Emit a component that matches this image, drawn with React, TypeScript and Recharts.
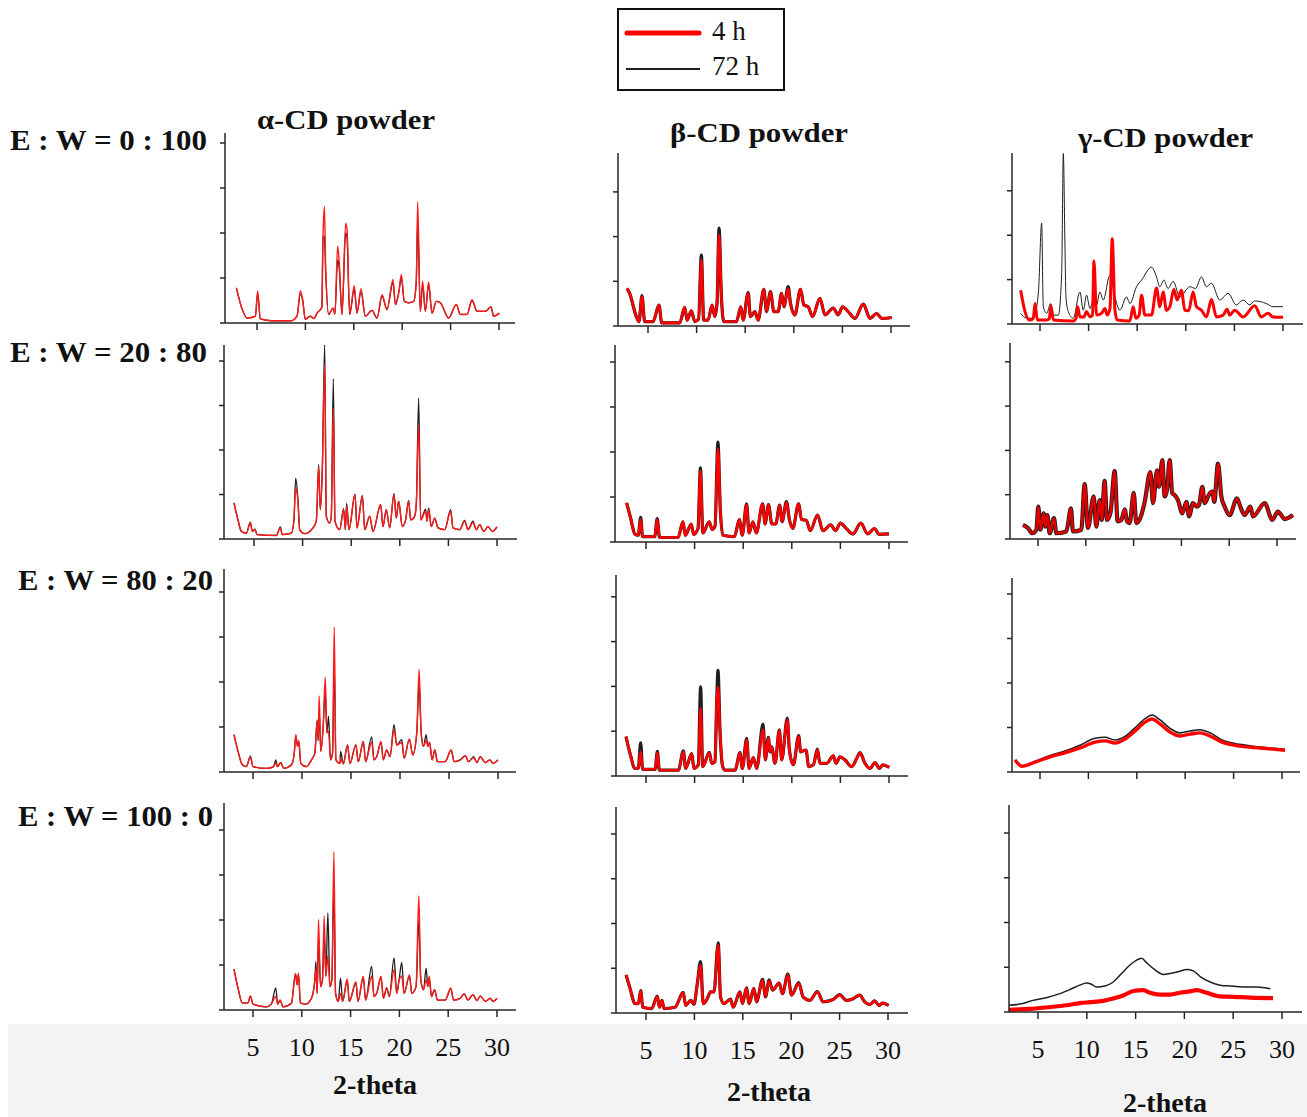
import React from "react";
import { LineChart, Line, XAxis, YAxis } from "recharts";

const xTicks = [5, 10, 15, 20, 25, 30];
const colTitles = ["α-CD powder", "β-CD powder", "γ-CD powder"];
const rowLabels = ["E : W = 0 : 100", "E : W = 20 : 80", "E : W = 80 : 20", "E : W = 100 : 0"];
const seriesNames = ["4 h", "72 h"];
const xTitle = "2-theta";

// rows are [2-theta, 4 h, 72 h]; intensity in y-tick units
const alpha0100 = [[2.87,0.78,0.78],[3.4,0.35,0.35],[3.97,0.11,0.11],[4.83,0.15,0.15],[5.07,0.71,0.66],[5.34,0.09,0.09],[6.5,0.05,0.05],[8.5,0.05,0.05],[9.13,0.15,0.15],[9.48,0.71,0.64],[9.72,0.52,0.5],[9.99,0.08,0.08],[10.5,0.15,0.15],[10.9,0.1,0.1],[11.2,0.22,0.22],[11.7,0.35,0.35],[11.82,1.93,1.9],[11.96,2.59,1.93],[12.1,1.2,1.1],[12.4,0.19,0.19],[12.85,0.33,0.33],[13.05,0.2,0.2],[13.33,1.71,1.41],[13.5,1.34,1.2],[13.78,0.19,0.19],[14.16,2.22,2.0],[14.3,2.08,1.9],[14.57,0.19,0.19],[15.05,0.83,0.75],[15.33,0.22,0.22],[15.74,0.76,0.7],[16.19,0.15,0.15],[16.88,0.28,0.28],[17.4,0.11,0.11],[17.92,0.63,0.6],[18.43,0.3,0.3],[19.05,0.97,0.9],[19.3,0.41,0.41],[19.64,0.67,0.67],[19.91,1.08,1.0],[20.22,0.48,0.48],[20.67,0.45,0.45],[21.18,0.48,0.48],[21.45,0.9,0.9],[21.6,2.69,2.23],[21.87,0.26,0.26],[22.11,0.93,0.85],[22.39,0.26,0.26],[22.73,0.91,0.85],[23.08,0.22,0.22],[23.53,0.48,0.48],[23.94,0.45,0.45],[24.8,0.11,0.11],[25.59,0.41,0.41],[26.0,0.19,0.19],[26.7,0.19,0.19],[27.21,0.52,0.5],[27.73,0.26,0.26],[28.59,0.26,0.26],[29.17,0.36,0.36],[29.45,0.15,0.15],[30.03,0.22,0.22]];

const beta0100 = [[2.84,0.84,0.84],[3.11,0.73,0.73],[3.8,0.21,0.21],[4.07,0.1,0.1],[4.38,0.66,0.68],[4.66,0.1,0.1],[5.52,0.1,0.1],[6.13,0.47,0.47],[6.41,0.07,0.07],[8.26,0.07,0.07],[8.78,0.42,0.42],[9.02,0.13,0.13],[9.46,0.34,0.34],[9.81,0.1,0.1],[10.2,0.15,0.15],[10.49,1.48,1.59],[10.73,0.13,0.13],[11.18,0.13,0.13],[11.59,0.47,0.47],[11.87,0.21,0.21],[12.1,0.5,0.5],[12.31,2.04,2.19],[12.55,0.66,0.66],[12.8,0.1,0.1],[14.1,0.1,0.1],[14.55,0.43,0.43],[14.79,0.13,0.13],[15.3,0.73,0.75],[15.54,0.21,0.21],[15.99,0.32,0.32],[16.33,0.13,0.13],[16.92,0.82,0.82],[17.19,0.32,0.32],[17.6,0.77,0.77],[17.95,0.32,0.32],[18.39,0.32,0.32],[18.74,0.73,0.73],[18.98,0.43,0.43],[19.42,0.84,0.88],[19.66,0.51,0.51],[20.11,0.25,0.25],[20.69,0.82,0.82],[21.04,0.47,0.47],[21.48,0.43,0.43],[21.93,0.21,0.21],[22.69,0.62,0.62],[23.2,0.25,0.25],[24.06,0.4,0.4],[24.57,0.25,0.25],[25.02,0.43,0.43],[25.6,0.32,0.32],[26.29,0.17,0.17],[27.15,0.49,0.49],[27.84,0.17,0.17],[28.52,0.28,0.28],[29.04,0.17,0.17],[30.07,0.19,0.19]];

// [2-theta, intensity]
const gamma0100_4h = [[3.01,0.76],[3.46,0.28],[3.9,0.09],[4.3,0.12],[4.49,0.46],[4.73,0.09],[5.68,0.09],[5.95,0.12],[6.13,0.41],[6.37,0.09],[8.42,0.07],[8.7,0.12],[8.87,0.39],[9.11,0.16],[9.52,0.16],[9.79,0.28],[10.14,0.16],[10.4,0.2],[10.55,1.42],[10.82,0.2],[11.34,0.24],[11.68,0.35],[11.92,0.2],[12.2,0.35],[12.43,1.92],[12.71,0.31],[12.95,0.09],[14.25,0.07],[14.59,0.39],[14.86,0.13],[15.2,0.2],[15.45,0.65],[15.79,0.2],[16.47,0.2],[16.99,0.81],[17.33,0.39],[17.67,0.72],[18.01,0.31],[18.36,0.39],[18.77,0.78],[19.11,0.54],[19.55,0.76],[19.9,0.31],[20.3,0.3],[20.75,0.72],[21.1,0.39],[21.61,0.31],[22.12,0.16],[22.64,0.55],[23.15,0.16],[23.84,0.2],[24.25,0.33],[24.52,0.2],[25.03,0.31],[25.89,0.16],[27.09,0.41],[27.77,0.16],[28.46,0.24],[28.97,0.16],[30.0,0.15]];
const gamma0100_72h = [[3.01,0.24],[3.63,0.13],[4.32,0.13],[4.83,0.69],[5.17,2.27],[5.34,0.39],[5.68,0.24],[6.1,0.46],[6.37,0.2],[6.88,0.2],[7.23,1.13],[7.4,3.84],[7.57,1.73],[7.67,0.61],[7.91,0.28],[8.42,0.13],[9.11,0.72],[9.45,0.31],[9.79,0.65],[10.14,0.35],[10.55,0.61],[10.82,0.43],[11.16,0.72],[11.51,0.54],[12.19,1.1],[12.71,0.61],[13.22,0.31],[13.9,0.61],[14.25,0.46],[14.93,0.84],[15.45,0.99],[16.47,1.28],[16.99,1.06],[17.33,0.84],[17.74,0.99],[18.18,0.8],[18.7,0.96],[19.38,0.61],[20.41,0.84],[21.0,0.8],[21.61,1.06],[22.12,0.84],[22.64,0.92],[23.49,0.54],[24.35,0.69],[25.2,0.43],[25.89,0.54],[26.58,0.43],[27.09,0.52],[28.29,0.46],[28.97,0.39],[30.0,0.39]];

const alpha2080 = [[2.94,0.81,0.81],[3.35,0.43,0.43],[3.7,0.17,0.17],[4.21,0.13,0.13],[4.62,0.36,0.38],[4.83,0.17,0.17],[5.1,0.22,0.22],[5.31,0.1,0.1],[7.3,0.08,0.08],[7.71,0.25,0.27],[7.91,0.1,0.1],[8.84,0.13,0.13],[9.1,0.4,0.4],[9.29,1.15,1.37],[9.53,0.81,0.85],[9.7,0.21,0.21],[10.21,0.12,0.12],[11.07,0.25,0.25],[11.41,0.4,0.4],[11.65,1.6,1.67],[11.82,0.66,0.66],[12.03,1.56,1.6],[12.27,3.92,4.37],[12.44,0.51,0.51],[12.78,0.36,0.36],[12.95,0.5,0.5],[13.16,2.94,3.6],[13.33,0.4,0.4],[13.81,0.21,0.21],[14.22,0.66,0.68],[14.4,0.21,0.21],[14.53,0.73,0.8],[14.77,0.21,0.21],[15.39,1.0,1.0],[15.6,0.25,0.25],[16.15,0.96,0.98],[16.39,0.21,0.21],[16.9,0.51,0.51],[17.24,0.17,0.17],[18.03,0.77,0.77],[18.27,0.28,0.28],[18.61,0.66,0.66],[18.96,0.25,0.25],[19.4,1.0,1.02],[19.64,0.47,0.47],[19.88,0.85,0.85],[20.26,0.28,0.28],[20.6,0.43,0.43],[20.91,0.85,0.87],[21.12,0.43,0.43],[21.53,0.51,0.51],[21.7,0.8,0.8],[21.94,2.57,3.17],[22.15,0.43,0.43],[22.66,0.62,0.67],[22.8,0.4,0.4],[22.97,0.66,0.7],[23.24,0.28,0.28],[23.59,0.47,0.47],[23.93,0.25,0.25],[24.62,0.21,0.21],[25.23,0.62,0.66],[25.47,0.25,0.25],[26.16,0.21,0.21],[26.67,0.4,0.42],[27.02,0.21,0.21],[27.53,0.37,0.4],[27.87,0.21,0.21],[28.22,0.32,0.32],[28.63,0.17,0.17],[29.07,0.28,0.28],[29.52,0.17,0.17],[30.0,0.27,0.27]];

const beta2080 = [[3.0,0.87,0.87],[3.4,0.55,0.55],[3.85,0.18,0.18],[4.2,0.15,0.15],[4.45,0.5,0.55],[4.65,0.12,0.12],[5.9,0.12,0.12],[6.15,0.5,0.52],[6.4,0.1,0.1],[8.3,0.1,0.1],[8.8,0.45,0.45],[9.05,0.15,0.15],[9.65,0.4,0.4],[9.9,0.17,0.17],[10.35,0.3,0.3],[10.6,1.58,1.65],[10.85,0.2,0.2],[11.5,0.45,0.45],[11.8,0.28,0.28],[12.1,0.35,0.35],[12.4,2.07,2.22],[12.65,0.7,0.7],[12.9,0.15,0.15],[14.1,0.12,0.12],[14.6,0.5,0.5],[14.9,0.15,0.15],[15.35,0.82,0.85],[15.6,0.2,0.2],[16.0,0.45,0.45],[16.35,0.2,0.2],[17.0,0.85,0.85],[17.25,0.4,0.4],[17.6,0.83,0.83],[17.95,0.4,0.4],[18.35,0.4,0.4],[18.75,0.82,0.82],[19.0,0.45,0.45],[19.45,0.88,0.9],[19.75,0.5,0.5],[20.1,0.3,0.3],[20.7,0.85,0.85],[21.0,0.5,0.5],[21.5,0.48,0.48],[21.9,0.25,0.25],[22.65,0.6,0.6],[23.2,0.25,0.25],[24.0,0.38,0.38],[24.5,0.25,0.25],[25.0,0.42,0.42],[25.6,0.3,0.3],[26.3,0.18,0.18],[27.1,0.42,0.42],[27.8,0.18,0.18],[28.5,0.3,0.3],[29.0,0.17,0.17],[30.0,0.18,0.18]];

const gamma2080 = [[3.43,0.32,0.32],[3.95,0.25,0.25],[4.41,0.13,0.13],[4.83,0.21,0.21],[5.03,0.73,0.73],[5.24,0.21,0.21],[5.59,0.58,0.58],[5.77,0.28,0.28],[5.98,0.54,0.54],[6.22,0.13,0.13],[6.67,0.47,0.47],[6.92,0.13,0.13],[7.96,0.17,0.17],[8.45,0.69,0.69],[8.66,0.17,0.17],[9.53,0.21,0.21],[9.88,1.24,1.24],[10.23,0.25,0.25],[10.82,0.96,0.96],[11.1,0.28,0.28],[11.45,0.88,0.88],[11.66,0.43,0.43],[11.97,1.31,1.31],[12.22,0.43,0.43],[12.57,0.58,0.58],[13.02,1.53,1.53],[13.33,0.4,0.4],[13.72,0.43,0.43],[14.07,0.67,0.67],[14.31,0.4,0.4],[14.59,0.36,0.36],[15.01,1.04,1.04],[15.29,0.36,0.36],[15.81,0.54,0.54],[16.16,0.84,0.84],[16.75,1.51,1.51],[17.03,0.81,0.81],[17.45,1.55,1.55],[17.66,1.18,1.18],[18.0,1.78,1.78],[18.25,0.96,0.96],[18.49,1.1,1.1],[18.77,1.78,1.78],[19.05,1.03,1.03],[19.3,0.99,0.99],[19.64,0.88,0.88],[20.1,0.58,0.58],[20.52,0.84,0.84],[20.8,0.51,0.51],[21.21,0.81,0.81],[21.63,0.73,0.73],[21.84,0.77,0.77],[22.19,1.18,1.18],[22.43,0.81,0.81],[22.96,1.03,1.03],[23.24,1.07,1.07],[23.44,0.84,0.84],[23.83,1.7,1.7],[24.18,0.96,0.96],[24.53,0.73,0.73],[25.05,0.54,0.54],[25.82,0.92,0.92],[26.16,0.73,0.73],[26.62,0.54,0.54],[27.21,0.73,0.73],[27.49,0.51,0.51],[28.71,0.81,0.81],[29.51,0.43,0.43],[30.1,0.62,0.62],[30.8,0.45,0.45],[31.67,0.54,0.54]];

const alpha8020 = [[3.06,0.83,0.83],[3.47,0.46,0.46],[3.91,0.16,0.16],[4.32,0.12,0.12],[4.73,0.33,0.35],[5.0,0.12,0.12],[6.36,0.08,0.08],[7.11,0.12,0.12],[7.32,0.2,0.27],[7.49,0.12,0.12],[7.83,0.21,0.21],[8.14,0.08,0.08],[8.92,0.16,0.16],[9.2,0.4,0.4],[9.37,0.83,0.8],[9.54,0.57,0.57],[9.67,0.7,0.68],[9.88,0.19,0.19],[10.46,0.12,0.12],[10.97,0.27,0.27],[11.31,0.42,0.42],[11.55,1.13,1.16],[11.65,0.7,0.7],[11.75,1.69,1.4],[11.92,0.46,0.46],[12.16,1.01,1.01],[12.37,2.1,1.8],[12.54,0.87,0.87],[12.71,0.9,1.24],[12.91,0.27,0.27],[13.12,0.42,0.42],[13.29,3.22,2.43],[13.46,0.27,0.27],[13.87,0.19,0.19],[13.94,0.3,0.46],[14.21,0.18,0.18],[14.65,0.6,0.6],[14.89,0.19,0.19],[15.5,0.6,0.6],[15.74,0.23,0.23],[16.26,0.68,0.68],[16.49,0.23,0.23],[17.11,0.66,0.78],[17.35,0.27,0.27],[17.62,0.34,0.34],[18.06,0.68,0.66],[18.3,0.27,0.27],[18.64,0.49,0.49],[18.98,0.34,0.34],[19.39,0.95,1.05],[19.67,0.6,0.6],[20.18,0.65,0.72],[20.42,0.31,0.31],[20.96,0.73,0.73],[21.3,0.38,0.38],[21.71,0.87,0.87],[21.95,2.28,1.95],[22.16,0.87,0.87],[22.39,0.57,0.57],[22.67,0.7,0.83],[22.84,0.57,0.57],[23.01,0.66,0.66],[23.28,0.27,0.27],[23.55,0.49,0.49],[23.82,0.23,0.23],[24.61,0.23,0.23],[25.22,0.49,0.49],[25.53,0.23,0.23],[26.15,0.27,0.27],[26.66,0.36,0.36],[27.0,0.23,0.23],[27.51,0.32,0.34],[27.85,0.21,0.21],[28.19,0.34,0.34],[28.7,0.21,0.21],[29.15,0.27,0.27],[29.49,0.19,0.19],[30.0,0.27,0.27]];

const beta8020 = [[2.94,0.88,0.88],[3.35,0.51,0.51],[3.87,0.17,0.17],[4.21,0.17,0.17],[4.45,0.54,0.74],[4.66,0.15,0.15],[5.93,0.15,0.15],[6.17,0.52,0.55],[6.37,0.13,0.13],[8.33,0.13,0.13],[8.84,0.54,0.56],[9.08,0.17,0.17],[9.7,0.49,0.5],[9.94,0.17,0.17],[10.38,0.25,0.25],[10.62,1.51,1.99],[10.83,0.21,0.21],[11.52,0.51,0.53],[11.76,0.28,0.28],[12.1,0.32,0.32],[12.27,1.62,1.62],[12.41,1.99,2.36],[12.61,1.03,1.03],[12.89,0.21,0.21],[13.13,0.13,0.13],[14.16,0.13,0.13],[14.67,0.52,0.52],[14.91,0.17,0.17],[15.36,0.8,0.84],[15.6,0.17,0.17],[16.04,0.41,0.41],[16.39,0.17,0.17],[17.04,1.03,1.16],[17.28,0.36,0.36],[17.59,0.84,0.86],[17.76,0.54,0.54],[17.93,0.65,0.65],[18.27,0.28,0.28],[18.72,1.01,1.03],[18.96,0.36,0.36],[19.54,1.25,1.29],[19.75,0.58,0.58],[20.16,0.25,0.25],[20.71,0.88,0.9],[20.91,0.54,0.54],[21.46,0.58,0.58],[21.74,0.21,0.21],[22.22,0.25,0.25],[22.63,0.58,0.6],[22.9,0.28,0.28],[23.59,0.28,0.28],[24.27,0.45,0.45],[24.55,0.28,0.28],[24.96,0.43,0.43],[25.47,0.36,0.36],[26.16,0.21,0.21],[26.67,0.39,0.39],[27.02,0.52,0.52],[27.53,0.28,0.28],[28.05,0.17,0.17],[28.56,0.3,0.3],[29.01,0.17,0.17],[29.35,0.25,0.25],[30.03,0.19,0.19]];

const gamma8020_4h = [[2.42,0.27],[3.14,0.13],[4.48,0.22],[6.03,0.34],[7.58,0.43],[9.13,0.54],[10.68,0.67],[11.71,0.7],[12.75,0.65],[13.78,0.74],[14.81,0.92],[15.85,1.12],[16.57,1.19],[17.4,1.08],[18.43,0.9],[19.46,0.81],[20.5,0.85],[21.53,0.88],[22.56,0.81],[23.8,0.67],[25.66,0.58],[27.73,0.54],[30.31,0.49]];
const gamma8020_72h = [[2.42,0.27],[3.14,0.14],[4.48,0.24],[6.03,0.37],[7.58,0.47],[9.13,0.6],[10.68,0.76],[11.71,0.78],[12.75,0.72],[13.78,0.8],[14.81,0.99],[15.85,1.2],[16.57,1.28],[17.4,1.17],[18.43,0.98],[19.46,0.88],[20.5,0.92],[21.53,0.95],[22.56,0.88],[23.8,0.72],[25.66,0.62],[27.73,0.56],[30.31,0.51]];

const alpha1000 = [[3.05,0.91,0.91],[3.46,0.49,0.49],[3.9,0.16,0.16],[4.49,0.16,0.16],[4.73,0.31,0.31],[5.0,0.13,0.13],[6.37,0.07,0.07],[6.88,0.13,0.13],[7.33,0.3,0.49],[7.53,0.13,0.13],[7.77,0.22,0.22],[8.08,0.07,0.07],[8.94,0.15,0.15],[9.35,0.81,0.8],[9.52,0.56,0.56],[9.66,0.82,0.8],[9.86,0.16,0.16],[10.41,0.13,0.13],[10.99,0.26,0.26],[11.34,0.67,0.67],[11.44,0.9,1.08],[11.58,0.37,0.37],[11.71,2.01,1.6],[11.92,0.52,0.52],[12.12,0.67,0.67],[12.29,2.09,1.7],[12.47,0.75,0.75],[12.67,1.2,2.16],[12.88,0.52,0.52],[13.08,0.67,0.67],[13.29,3.51,2.8],[13.46,0.37,0.37],[13.73,0.19,0.19],[13.97,0.37,0.71],[14.18,0.19,0.19],[14.66,0.69,0.66],[14.86,0.19,0.19],[15.55,0.63,0.6],[15.75,0.19,0.19],[16.3,0.75,0.72],[16.54,0.22,0.22],[17.16,0.75,0.97],[17.4,0.3,0.3],[17.67,0.37,0.37],[18.12,0.75,0.72],[18.36,0.26,0.26],[18.7,0.49,0.49],[18.97,0.3,0.3],[19.45,0.9,1.16],[19.73,0.37,0.37],[19.97,0.67,0.67],[20.24,0.75,1.06],[20.48,0.37,0.37],[21.03,0.78,0.76],[21.27,0.37,0.37],[21.71,0.52,0.52],[21.99,2.54,2.0],[22.19,0.67,0.67],[22.47,0.45,0.45],[22.74,0.67,0.93],[22.91,0.52,0.52],[23.05,0.75,0.72],[23.29,0.3,0.3],[23.6,0.45,0.45],[23.9,0.22,0.22],[24.69,0.22,0.22],[25.27,0.49,0.47],[25.55,0.22,0.22],[26.23,0.26,0.26],[26.64,0.36,0.36],[27.02,0.22,0.22],[27.53,0.34,0.34],[27.95,0.21,0.21],[28.29,0.31,0.31],[28.8,0.19,0.19],[29.32,0.26,0.26],[29.59,0.19,0.19],[30.0,0.26,0.26]];

const beta1000 = [[2.94,0.85,0.85],[3.35,0.55,0.55],[3.87,0.21,0.21],[4.21,0.21,0.21],[4.45,0.49,0.5],[4.66,0.13,0.13],[5.58,0.1,0.1],[6.17,0.36,0.38],[6.38,0.13,0.13],[6.65,0.28,0.28],[6.86,0.1,0.1],[7.99,0.13,0.13],[8.85,0.45,0.46],[9.09,0.17,0.17],[9.64,0.28,0.28],[9.95,0.19,0.19],[10.3,0.66,0.66],[10.64,1.07,1.15],[10.91,0.21,0.21],[11.33,0.32,0.32],[11.67,0.47,0.47],[12.02,0.47,0.47],[12.46,1.52,1.57],[12.7,0.36,0.36],[13.05,0.21,0.21],[13.73,0.3,0.31],[14.01,0.13,0.13],[14.7,0.47,0.47],[14.97,0.21,0.21],[15.38,0.55,0.56],[15.66,0.21,0.21],[16.14,0.55,0.55],[16.42,0.25,0.25],[17.04,0.73,0.75],[17.35,0.36,0.36],[17.72,0.72,0.74],[18.07,0.51,0.51],[18.76,0.67,0.67],[19.1,0.43,0.43],[19.65,0.85,0.87],[20.03,0.4,0.4],[20.78,0.66,0.68],[21.23,0.36,0.36],[21.92,0.28,0.28],[22.71,0.47,0.48],[23.29,0.25,0.25],[24.33,0.3,0.3],[25.01,0.4,0.41],[25.7,0.28,0.28],[26.39,0.32,0.32],[27.08,0.4,0.4],[27.59,0.25,0.25],[28.11,0.19,0.19],[28.62,0.27,0.27],[29.07,0.17,0.17],[29.42,0.22,0.22],[30.07,0.17,0.17]];

const gamma1000_4h = [[2.02,0.05],[4.14,0.07],[6.2,0.11],[7.91,0.15],[9.28,0.2],[10.31,0.22],[11.68,0.25],[12.71,0.3],[13.73,0.37],[14.76,0.47],[15.79,0.49],[16.47,0.43],[17.5,0.39],[18.53,0.39],[19.55,0.43],[20.58,0.46],[21.27,0.49],[22.29,0.43],[23.66,0.35],[25.03,0.34],[26.75,0.32],[29.08,0.31]];
const gamma1000_72h = [[2.02,0.15],[3.46,0.19],[4.49,0.26],[5.86,0.32],[7.23,0.41],[8.25,0.5],[9.28,0.6],[9.97,0.65],[10.48,0.62],[10.99,0.56],[11.85,0.58],[12.71,0.67],[13.56,0.86],[14.42,1.05],[15.1,1.16],[15.62,1.2],[16.13,1.1],[16.99,0.94],[17.84,0.84],[18.53,0.86],[19.38,0.9],[20.24,0.95],[20.92,0.92],[21.61,0.79],[22.64,0.67],[23.66,0.6],[24.69,0.58],[26.06,0.56],[27.43,0.56],[28.8,0.52]];

type Pt = { x: number; y: number };
const pick = (rows: number[][], i: number): Pt[] => rows.map((r) => ({ x: r[0], y: r[i] }));

// panel frames in page px: [axis x, axis top, axis right, axis bottom, x of 5, x of 30, px per y tick]
const boxes = [
  [225, 133, 515, 323, 257, 499, 45],
  [618, 153, 910, 326, 648, 891, 44.7],
  [1012, 153, 1303, 324, 1040, 1283, 44.4],
  [224, 345, 517, 539, 254, 497, 44.5],
  [615, 345, 908, 542, 646, 889, 45],
  [1010, 343, 1296, 539, 1038, 1277, 44.3],
  [224, 569, 516, 772, 253, 498, 45],
  [616, 575, 908, 776, 646, 889, 44.8],
  [1012, 578, 1300, 772, 1040, 1282, 44.5],
  [224, 803, 516, 1010, 253, 497, 45],
  [616, 807, 908, 1013, 646, 888, 44.75],
  [1009, 805, 1302, 1012, 1038, 1282, 44.75],
];

// [4 h width, 72 h width, 4 h colour]
const lineLooks = [
  [1.4, 1.3, "#ff1a1a"], [2.6, 3.2, "#ff0000"], [3, 1, "#ff0000"],
  [1.4, 1.3, "#ff1a1a"], [2.6, 3.2, "#ff0000"], [2.6, 4.2, "#e00000"],
  [1.4, 1.3, "#ff1a1a"], [2.6, 3.2, "#ff0000"], [3.4, 1.6, "#ff0000"],
  [1.4, 1.3, "#ff1a1a"], [2.6, 3.2, "#ff0000"], [4.2, 1.5, "#ff0000"],
];

const panelSeries: Pt[][][] = [
  [pick(alpha0100, 1), pick(alpha0100, 2)],
  [pick(beta0100, 1), pick(beta0100, 2)],
  [pick(gamma0100_4h, 1), pick(gamma0100_72h, 1)],
  [pick(alpha2080, 1), pick(alpha2080, 2)],
  [pick(beta2080, 1), pick(beta2080, 2)],
  [pick(gamma2080, 1), pick(gamma2080, 2)],
  [pick(alpha8020, 1), pick(alpha8020, 2)],
  [pick(beta8020, 1), pick(beta8020, 2)],
  [pick(gamma8020_4h, 1), pick(gamma8020_72h, 1)],
  [pick(alpha1000, 1), pick(alpha1000, 2)],
  [pick(beta1000, 1), pick(beta1000, 2)],
  [pick(gamma1000_4h, 1), pick(gamma1000_72h, 1)],
];

const AXIS = "#262626";
const FONT = "'Liberation Serif', 'Times New Roman', serif";
const YW = 20;
const PAD = 4;

function Panel({ idx }: { idx: number }) {
  const [x0, top, x1, bottom, t5, t30, step] = boxes[idx];
  const [rw, bw, rc] = lineLooks[idx] as [number, number, string];
  const [s4, s72] = panelSeries[idx];
  const labels = idx >= 9;
  const ppu = (t30 - t5) / 25;
  const xMin = 5 - (t5 - x0) / ppu;
  const xMax = 30 + (x1 - t30) / ppu;
  const yMax = (bottom - top) / step;
  const yTicks: number[] = [];
  for (let i = 0; i <= Math.floor(yMax); i++) yTicks.push(i);
  const xh = labels ? 70 : 14;
  return (
    <div style={{ position: "absolute", left: x0 - YW, top: top - PAD }}>
      <LineChart
        width={x1 - x0 + YW + PAD}
        height={bottom - top + PAD + xh}
        margin={{ top: PAD, right: PAD, bottom: 0, left: 0 }}
      >
        <XAxis
          type="number"
          dataKey="x"
          domain={[xMin, xMax]}
          allowDataOverflow
          ticks={xTicks}
          interval={0}
          height={xh}
          tickSize={7}
          tickMargin={21}
          stroke={AXIS}
          strokeWidth={1.5}
          tick={{ fontSize: 26, fontFamily: FONT, fill: "#111" }}
          tickFormatter={labels ? undefined : () => ""}
        />
        <YAxis
          type="number"
          domain={[0, yMax]}
          allowDataOverflow
          ticks={yTicks}
          interval={0}
          width={YW}
          tickSize={5}
          stroke={AXIS}
          strokeWidth={1.5}
          tickFormatter={() => ""}
        />
        <Line data={s72} dataKey="y" name={seriesNames[1]} type="monotoneX" stroke="#1e1e1e" strokeWidth={bw} dot={false} isAnimationActive={false} strokeLinejoin="round" />
        <Line data={s4} dataKey="y" name={seriesNames[0]} type="monotoneX" stroke={rc} strokeWidth={rw} dot={false} isAnimationActive={false} strokeLinejoin="round" />
      </LineChart>
    </div>
  );
}

export default function App() {
  const titlePos = [[257, 129, 178], [670, 142, 178], [1078, 147, 175]];
  const rowPos = [[10, 150, 197], [10, 362, 197], [18, 590, 195], [18, 826, 195]];
  const xTitlePos = [[375, 1094], [769, 1101], [1165, 1112]];
  return (
    <div style={{ position: "relative", width: 1307, height: 1117, background: "#fff", overflow: "hidden", fontFamily: FONT }}>
      <style>{`body{margin:0}`}</style>
      <div style={{ position: "absolute", left: 8, top: 1024, width: 1299, height: 93, background: "#f3f3f3" }} />
      {boxes.map((_, i) => (
        <Panel key={i} idx={i} />
      ))}
      <svg width={1307} height={1117} style={{ position: "absolute", left: 0, top: 0, pointerEvents: "none" }}>
        <g fontFamily={FONT} fill="#111">
          {colTitles.map((t, i) => (
            <text key={t} x={titlePos[i][0]} y={titlePos[i][1]} fontSize={28} fontWeight="bold" textLength={titlePos[i][2]} lengthAdjust="spacingAndGlyphs">
              {t}
            </text>
          ))}
          {rowLabels.map((t, i) => (
            <text key={t} x={rowPos[i][0]} y={rowPos[i][1]} fontSize={29} fontWeight="bold" textLength={rowPos[i][2]} lengthAdjust="spacingAndGlyphs">
              {t}
            </text>
          ))}
          {xTitlePos.map((p, i) => (
            <text key={i} x={p[0]} y={p[1]} fontSize={28} fontWeight="bold" textAnchor="middle">
              {xTitle}
            </text>
          ))}
          <rect x={618} y={9} width={166} height={81} fill="#fff" stroke="#111" strokeWidth={2} />
          <line x1={627} y1={33} x2={699} y2={33} stroke="#ff0000" strokeWidth={5} strokeLinecap="round" />
          <line x1={626} y1={69} x2={700} y2={69} stroke="#1e1e1e" strokeWidth={2} />
          <text x={712} y={40} fontSize={27}>{seriesNames[0]}</text>
          <text x={712} y={75} fontSize={27}>{seriesNames[1]}</text>
        </g>
      </svg>
    </div>
  );
}
